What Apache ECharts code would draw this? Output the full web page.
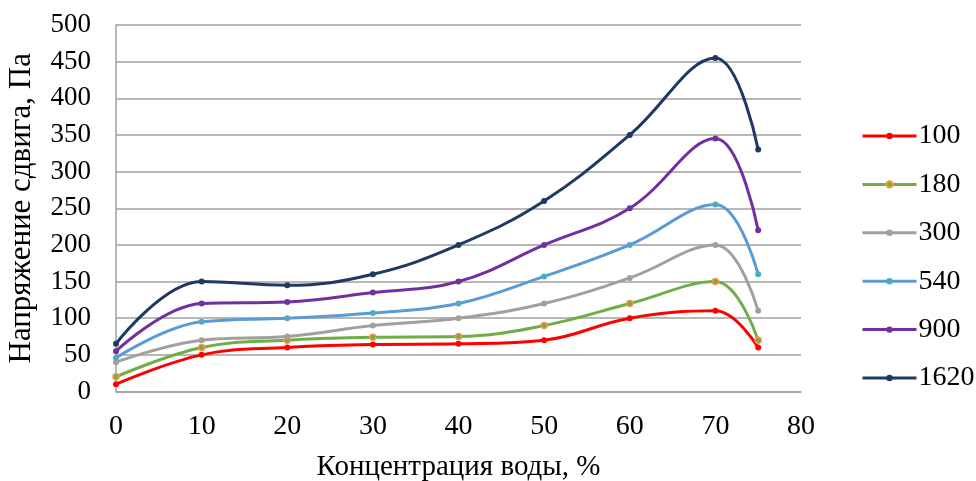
<!DOCTYPE html>
<html><head><meta charset="utf-8">
<script src="https://cdn.jsdelivr.net/npm/echarts@6/dist/echarts.min.js"></script>
<style>html,body{margin:0;padding:0;background:#fff}#c{width:976px;height:481px}</style>
</head><body><div id="c"></div>
<script>
const xVals = [0, 10, 20, 30, 40, 50, 60, 70, 75];
const seriesNames = ['100', '180', '300', '540', '900', '1620'];
const s100  = [10, 50, 60, 64, 65, 70, 100, 110, 60];
const s180  = [20, 60, 70, 74, 75, 90, 120, 150, 70];
const s300  = [40, 70, 75, 90, 100, 120, 155, 200, 110];
const s540  = [46, 95, 100, 107, 120, 157, 200, 255, 160];
const s900  = [55, 120, 122, 135, 150, 200, 250, 345, 220];
const s1620 = [65, 150, 145, 160, 200, 260, 350, 455, 330];
const allValues = [s100, s180, s300, s540, s900, s1620];
const lineColors = ['#ff0000', '#70ad47', '#a0a0a0', '#5b9bd5', '#7030a0', '#1f3864'];
const markerFill = ['#ff0000', '#70ad47', '#a0a0a0', '#4bacc6', '#7030a0', '#1f3864'];
const markerBorder = ['#ff0000', '#f79646', '#a0a0a0', '#4bacc6', '#7030a0', '#1f3864'];
const font = '"Liberation Serif", "Times New Roman", serif';

const chart = echarts.init(document.getElementById('c'));
chart.setOption({
  animation: false,
  grid: {left: 116, right: 175, top: 25, bottom: 89.5, outerBoundsMode: 'none', containLabel: false},
  legend: {
    orient: 'vertical', left: 856, top: 117, itemGap: 20.4,
    itemWidth: 54, itemHeight: 8,
    lineStyle: {width: 3},
    textStyle: {fontFamily: font, fontSize: 28, color: '#000', padding: [0, 0, 0, -3]},
    data: seriesNames
  },
  xAxis: {
    type: 'value', min: 0, max: 80, interval: 10,
    name: 'Концентрация воды, %', nameLocation: 'middle', nameGap: 61,
    nameTextStyle: {fontFamily: font, fontSize: 29, color: '#000'},
    axisLine: {show: true, lineStyle: {color: '#a0a0a0', width: 1.5}},
    axisTick: {show: false},
    splitLine: {show: false},
    axisLabel: {fontFamily: font, fontSize: 28, color: '#000', margin: 21}
  },
  yAxis: {
    type: 'value', min: 0, max: 500, interval: 50,
    name: 'Напряжение сдвига, Па', nameLocation: 'middle', nameGap: 79,
    nameTextStyle: {fontFamily: font, fontSize: 31, color: '#000'},
    axisLine: {show: true, lineStyle: {color: '#a0a0a0', width: 1.5}},
    axisTick: {show: false},
    splitLine: {show: true, lineStyle: {color: '#a0a0a0', width: 1.5}},
    axisLabel: {fontFamily: font, fontSize: 27, color: '#000', margin: 25}
  },
  series: seriesNames.map((n, i) => ({
    name: n, type: 'line', smooth: 0.4,
    data: xVals.map((x, j) => [x, allValues[i][j]]),
    symbol: 'circle', symbolSize: 6,
    lineStyle: {color: lineColors[i], width: 3},
    itemStyle: {color: markerFill[i], borderColor: markerBorder[i], borderWidth: i === 1 ? 1.5 : 0},
    z: 2 + i
  }))
});
</script></body></html>
